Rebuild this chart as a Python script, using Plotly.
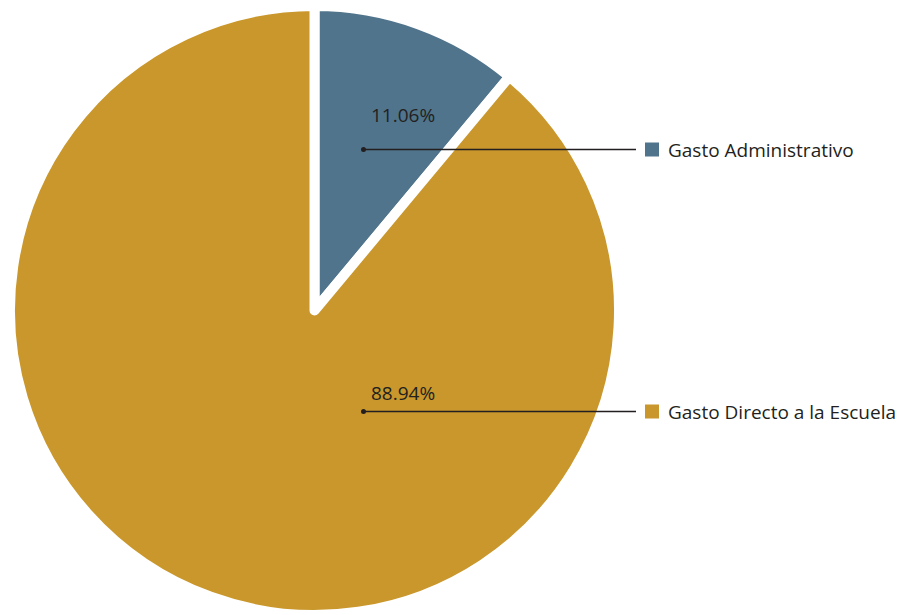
import plotly.graph_objects as go

# Budget split
categories = ["Gasto Administrativo", "Gasto Directo a la Escuela"]
shares = [11.06, 88.94]
colors = ["#50748B", "#C9972B"]

W, H = 898, 615
M_TOP = 6

def px(x):
    return x / W

def py(y):
    return 1 - (y - M_TOP) / (H - M_TOP)

fig = go.Figure()
fig.add_trace(go.Pie(
    labels=categories,
    values=shares,
    sort=False,
    direction="clockwise",
    rotation=0,
    marker=dict(colors=colors, line=dict(color="white", width=10)),
    textinfo="none",
    hoverinfo="label+percent",
    showlegend=False,
    domain=dict(x=[0, 629 / W], y=[0, 1]),
))

text_color = "#231F20"
font_family = "Open Sans, Noto Sans, sans-serif"

# leader rows: label y-position, line y-position
label_y = [115, 393]
line_y = [149.5, 411.5]
shapes = []
annotations = []
for cat, val, col, ly, ry in zip(categories, shares, colors, label_y, line_y):
    shapes.append(dict(type="line", xref="paper", yref="paper",
                       x0=px(363.5), x1=px(636), y0=py(ry), y1=py(ry),
                       line=dict(color=text_color, width=1.3)))
    shapes.append(dict(type="circle", xref="paper", yref="paper",
                       x0=px(361), x1=px(366), y0=py(ry - 2.5), y1=py(ry + 2.5),
                       fillcolor=text_color, line=dict(width=0)))
    shapes.append(dict(type="rect", xref="paper", yref="paper",
                       x0=px(645), x1=px(659), y0=py(ry - 7), y1=py(ry + 7),
                       fillcolor=col, line=dict(width=0)))
    annotations.append(dict(text=f"{val:.2f}%", xref="paper", yref="paper",
                            x=px(403), y=py(ly), xanchor="center", yanchor="middle",
                            showarrow=False,
                            font=dict(family=font_family, size=19, color=text_color)))
    annotations.append(dict(text=cat, xref="paper", yref="paper",
                            x=px(666), y=py(ry), xanchor="left", yanchor="middle",
                            showarrow=False,
                            font=dict(family=font_family, size=19, color=text_color)))

fig.update_layout(
    width=W, height=H,
    margin=dict(l=0, r=0, t=M_TOP, b=0),
    paper_bgcolor="white",
    plot_bgcolor="white",
    shapes=shapes,
    annotations=annotations,
)

fig.write_html("out.html")
